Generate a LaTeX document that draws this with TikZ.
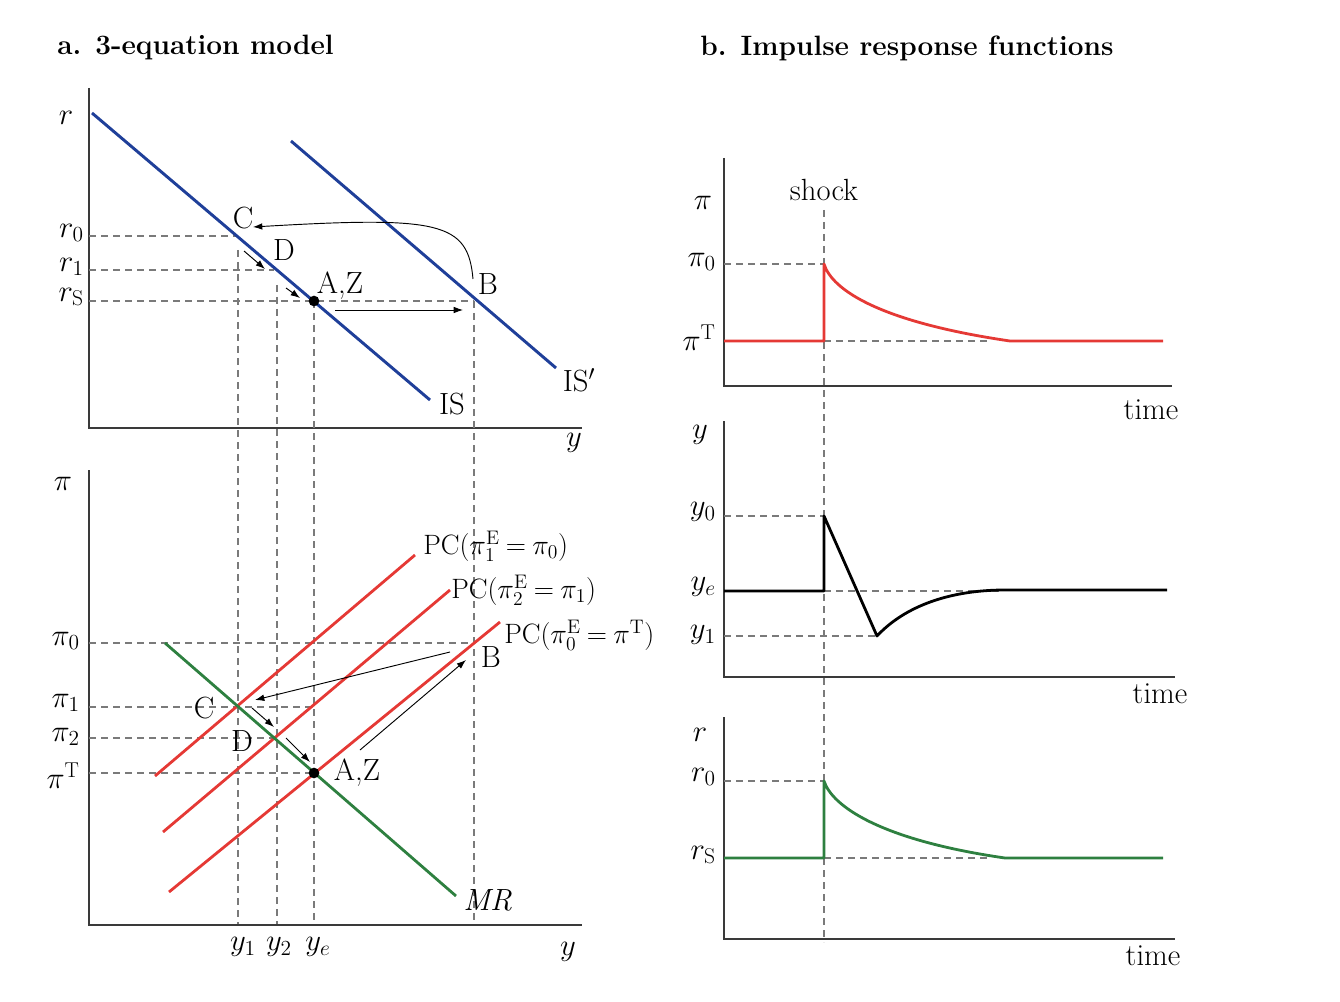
\RequirePackage{fix-cm}
\documentclass[tikz,border=0pt]{standalone}
\usepackage{fontspec}
\usetikzlibrary{arrows.meta}
\definecolor{isblue}{HTML}{1F3F99}
\definecolor{pcred}{HTML}{E53935}
\definecolor{mrgreen}{HTML}{2E8040}
\definecolor{axisgray}{HTML}{3A3A3A}
\definecolor{guidegray}{HTML}{7A7A7A}
\tikzset{
  axisline/.style={draw=axisgray, line width=1.5pt},
  guide/.style={draw=guidegray, line width=0.9pt, dash pattern=on 5.5pt off 3.5pt},
  iscurve/.style={draw=isblue, line width=2.2pt},
  pccurve/.style={draw=pcred, line width=2.1pt},
  mrcurve/.style={draw=mrgreen, line width=2.1pt},
  ycurve/.style={draw=black, line width=2.1pt, line join=round},
  movearrow/.style={draw=black, line width=0.7pt, -{Latex[length=7pt,width=5pt]}},
  lbl/.style={font=\fontsize{23}{27}\selectfont, inner sep=0pt},
  pclbl/.style={font=\fontsize{21}{25}\selectfont, inner sep=0pt, anchor=west},
  ttl/.style={font=\fontsize{21}{25}\selectfont\bfseries, inner sep=0pt, anchor=west},
  pointdot/.style={circle, fill=black, inner sep=0pt, minimum size=8pt}
}
\begin{document}
\begin{tikzpicture}[x=0.75pt, y=-0.75pt]
\useasboundingbox (0,0) rectangle (1340,1002);

% titles
\node[ttl] (ta) at (57,48) {a. 3-equation model};
\node[ttl] (tb) at (700,48) {b. Impulse response functions};

% ---------- panel a, top: IS ----------
\coordinate (ta0) at (89,88);
\coordinate (ta1) at (89,428);
\coordinate (ta2) at (582,428);
\draw[axisline] (ta0) -- (ta1) -- (ta2);
\node[lbl] (lr) at (66,118) {$r$};
\node[lbl] (ly1) at (574,443) {$y$};

\coordinate (C1) at (237,236);
\coordinate (D1) at (274,270);
\coordinate (A1) at (314,301);
\coordinate (B1) at (474,301);

% guides
\draw[guide] (89,236) -- (C1);
\draw[guide] (89,270) -- (D1);
\draw[guide] (89,301) -- (B1);
\draw[guide] (238,250) -- (238,925);
\draw[guide] (277,285) -- (277,925);
\draw[guide] (314,301) -- (314,925);
\draw[guide] (474,301) -- (474,925);

\coordinate (is0) at (92,113);
\coordinate (is1) at (430,400);
\coordinate (isp0) at (291,141);
\coordinate (isp1) at (556,368);
\draw[iscurve] (is0) -- (is1);
\draw[iscurve] (isp0) -- (isp1);
\node[lbl] (lis) at (452,404) {IS};
\node[lbl] (lisp) at (579,380) {IS$'$};

\node[lbl] (lr0) [anchor=east] at (84,233) {$r_0$};
\node[lbl] (lr1) [anchor=east] at (84,267) {$r_1$};
\node[lbl] (lrs) [anchor=east] at (84,297) {$r_{\mathrm{S}}$};

\node[lbl] (lC1) at (243,218) {C};
\node[lbl] (lD1) at (284,250) {D};
\node[lbl] (lAZ1) at (340,286) {A,Z};
\node[lbl] (lB1) at (488,284) {B};
\node[pointdot] (dotA1) at (A1) {};

\coordinate (ar1s) at (244,251);
\coordinate (ar1e) at (265,269);
\coordinate (ar2s) at (286,288);
\coordinate (ar2e) at (300,298);
\draw[movearrow] (ar1s) -- (ar1e);
\draw[movearrow] (ar2s) -- (ar2e);
\coordinate (hs) at (335,310);
\coordinate (he) at (463,310);
\draw[movearrow] (hs) -- (he);
\coordinate (cbs) at (473,279);
\coordinate (cbe) at (253,227);
\draw[movearrow] (cbs) .. controls (468,222) and (440,216) .. (cbe);

% ---------- panel a, bottom: PC / MR ----------
\coordinate (tb0) at (89,470);
\coordinate (tb1) at (89,925);
\coordinate (tb2) at (582,925);
\draw[axisline] (tb0) -- (tb1) -- (tb2);
\node[lbl] (lpi) at (63,484) {$\pi$};
\node[lbl] (ly2) at (568,952) {$y$};
\node[lbl] (lyy1) at (243,947) {$y_1$};
\node[lbl] (lyy2) at (279,947) {$y_2$};
\node[lbl] (lyye) at (318,947) {$y_e$};

\coordinate (C2) at (238,707);
\coordinate (D2) at (277,738);
\coordinate (A2) at (314,773);
\coordinate (B2) at (474,643);

\draw[guide] (89,643) -- (B2);
\draw[guide] (89,707) -- (314,707);
\draw[guide] (89,738) -- (D2);
\draw[guide] (89,773) -- (A2);

\coordinate (pc1a) at (155,776);
\coordinate (pc1b) at (415,555);
\coordinate (pc2a) at (163,832);
\coordinate (pc2b) at (450,590);
\coordinate (pc0a) at (169,892);
\coordinate (pc0b) at (500,622);
\draw[pccurve] (pc1a) -- (pc1b);
\draw[pccurve] (pc2a) -- (pc2b);
\draw[pccurve] (pc0a) -- (pc0b);
\coordinate (mra) at (165,643);
\coordinate (mrb) at (456,896);
\draw[mrcurve] (mra) -- (mrb);

\node[pclbl] (lpc1) at (423,546) {PC($\pi^{\mathrm{E}}_1 \mkern-1mu= \mkern-1mu\pi_0$)};
\node[pclbl] (lpc2) at (451,590) {PC($\pi^{\mathrm{E}}_2 \mkern-1mu= \mkern-1mu\pi_1$)};
\node[pclbl] (lpc0) at (504,635) {PC($\pi^{\mathrm{E}}_0 \mkern-1mu= \mkern-1mu\pi^{\mathrm{T}}$)};
\node[lbl, anchor=west] (lmr) at (463,900) {\textit{MR}};

\node[lbl] (lpi0) [anchor=east] at (80,641) {$\pi_0$};
\node[lbl] (lpi1) [anchor=east] at (80,703) {$\pi_1$};
\node[lbl] (lpi2) [anchor=east] at (80,737) {$\pi_2$};
\node[lbl] (lpiT) [anchor=east] at (80,776) {$\pi^{\mathrm{T}}$};

\node[lbl] (lC2) at (204,708) {C};
\node[lbl] (lD2) at (242,741) {D};
\node[lbl] (lAZ2) at (357,773) {A,Z};
\node[lbl] (lB2) at (491,657) {B};
\node[pointdot] (dotA2) at (A2) {};

\coordinate (b1s) at (252,708);
\coordinate (b1e) at (274,727);
\coordinate (b2s) at (286,738);
\coordinate (b2e) at (310,762);
\draw[movearrow] (b1s) -- (b1e);
\draw[movearrow] (b2s) -- (b2e);
\coordinate (abs) at (360,750);
\coordinate (abe) at (466,660);
\draw[movearrow] (abs) -- (abe);
\coordinate (bcs) at (450,652);
\coordinate (bce) at (255,700);
\draw[movearrow] (bcs) -- (bce);

% ---------- panel b ----------
\node[lbl] (lshock) at (824,190) {shock};
\coordinate (sh0) at (824,210);
\coordinate (sh1) at (824,942);
\draw[guide] (sh0) -- (sh1);

% pi panel
\coordinate (p0) at (724,158);
\coordinate (p1) at (724,386);
\coordinate (p2) at (1172,386);
\draw[axisline] (p0) -- (p1) -- (p2);
\node[lbl] (lpib) at (703,203) {$\pi$};
\node[lbl, anchor=east] (lpib0) at (716,262) {$\pi_0$};
\node[lbl, anchor=east] (lpibT) at (716,338) {$\pi^{\mathrm{T}}$};
\node[lbl] (ltime1) at (1151,410) {time};
\draw[guide] (724,264) -- (824,264);
\draw[guide] (824,341) -- (990,341);
\draw[pccurve, line join=round] (724,341) -- (824,341) -- (824,264)
  .. controls (832,290) and (880,322) .. (1010,341) -- (1163,341);

% y panel
\coordinate (q0) at (724,421);
\coordinate (q1) at (724,677);
\coordinate (q2) at (1175,677);
\draw[axisline] (q0) -- (q1) -- (q2);
\node[lbl] (lyb) at (700,435) {$y$};
\node[lbl, anchor=east] (lyb0) at (716,512) {$y_0$};
\node[lbl, anchor=east] (lybe) at (716,587) {$y_e$};
\node[lbl, anchor=east] (lyb1) at (716,635) {$y_1$};
\node[lbl] (ltime2) at (1160,694) {time};
\draw[guide] (724,516) -- (824,516);
\draw[guide] (824,591) -- (1000,591);
\draw[guide] (724,636) -- (877,636);
\draw[ycurve] (724,591) -- (824,591) -- (824,516) -- (877,636)
  .. controls (905,606) and (950,590) .. (1005,590) -- (1167,590);

% r panel
\coordinate (s0) at (724,717);
\coordinate (s1) at (724,939);
\coordinate (s2) at (1175,939);
\draw[axisline] (s0) -- (s1) -- (s2);
\node[lbl] (lrb) at (700,735) {$r$};
\node[lbl, anchor=east] (lrb0) at (716,777) {$r_0$};
\node[lbl, anchor=east] (lrbs) at (716,855) {$r_{\mathrm{S}}$};
\node[lbl] (ltime3) at (1153,956) {time};
\draw[guide] (724,781) -- (824,781);
\draw[guide] (824,858) -- (990,858);
\draw[mrcurve, line join=round] (724,858) -- (824,858) -- (824,781)
  .. controls (832,806) and (880,840) .. (1005,858) -- (1163,858);
\end{tikzpicture}
\end{document}
